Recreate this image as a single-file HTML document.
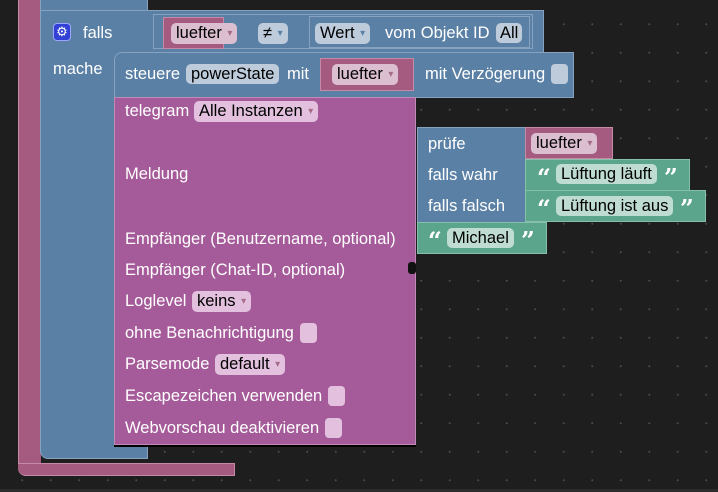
<!DOCTYPE html>
<html><head><meta charset="utf-8"><style>
*{margin:0;padding:0;box-sizing:border-box}
body{width:718px;height:492px;overflow:hidden;background:#1e1e1e;position:relative;font-family:"Liberation Sans",Arial,sans-serif;font-size:16.5px;color:#fff;
background-image:radial-gradient(circle,#4a4a4a 0.8px,transparent 1.2px);background-size:28.5px 28.5px;background-position:8px 10px}
.a{position:absolute}
.pk{background:#a55b80;border:1px solid #c58aa6}
.bl{background:#5b80a5;border:1px solid #86a2bf}
.pu{background:#a55b99;border:1px solid #c08ab6}
.gr{background:#5ba58c;border:1px solid #86c0ab}
.t{position:absolute;white-space:nowrap;line-height:18px}
.pill{position:absolute;border-radius:5px;color:#000;line-height:20px;padding:0 5px;white-space:nowrap}
.pp{background:#dbbfd0}
.pb{background:#bdcbdb}
.pg{background:#bfdcd2}
.pv{background:#e2c0de}
.dd::after{content:"  ▾";white-space:pre;font-size:10px;color:#a56b88;vertical-align:2px}
.dd.b::after{color:#5b80a5}
.cb{position:absolute;width:17px;height:20px;border-radius:4px}
.q{position:absolute;font-weight:bold;font-size:24px;font-family:"DejaVu Serif",serif;line-height:24px}
</style></head><body>
<div class="a" style="left:0;top:489px;width:718px;height:3px;background:#2c2c2c"></div>
<div class="a pk" style="left:18px;top:-2px;width:23px;height:478px;border-radius:0 0 0 8px;border-right:none"></div>
<div class="a pk" style="left:18px;top:463px;width:217px;height:13px;border-left:none;border-radius:0 0 0 8px"></div>
<div class="a bl" style="left:40px;top:-2px;width:108px;height:461px;border-radius:0 0 0 8px"></div>
<div class="a bl" style="left:40px;top:10px;width:504px;height:43px;border-bottom:none"></div>
<div class="a" style="left:53px;top:23px;width:18px;height:18px;background:#3340d6;border:1px solid #9aa6ff;border-radius:4px;color:#fff;font-size:13px;text-align:center;line-height:16px">⚙</div>
<div class="t" style="left:83px;top:24px">falls</div>
<div class="t" style="left:53px;top:60px">mache</div>
<div class="a bl" style="left:153px;top:14px;width:380px;height:35px;background:transparent;border:1px solid #86a2bf"></div>
<div class="a pk" style="left:163px;top:17px;width:61px;height:32px"></div>
<div class="pill pp dd" style="left:171px;top:23px">luefter</div>
<div class="pill pb dd b" style="left:258px;top:23px">≠</div>
<div class="a bl" style="left:309px;top:16px;width:221px;height:32px"></div>
<div class="pill pb dd b" style="left:315px;top:23px">Wert</div>
<div class="t" style="left:385px;top:24px">vom Objekt ID</div>
<div class="pill pb" style="left:496px;top:23px;padding:0 4px">All</div>
<div class="a bl" style="left:114px;top:52px;width:460px;height:46px;border-radius:8px 0 0 0"></div>
<div class="t" style="left:125px;top:65px">steuere</div>
<div class="pill pb" style="left:186px;top:64px">powerState</div>
<div class="t" style="left:287px;top:65px">mit</div>
<div class="a pk" style="left:320px;top:58px;width:94px;height:33px"></div>
<div class="pill pp dd" style="left:332px;top:64px">luefter</div>
<div class="t" style="left:425px;top:65px">mit Verzögerung</div>
<div class="cb" style="left:551px;top:64px;background:#bdcbdb"></div>
<div class="a pu" style="left:114px;top:97px;width:302px;height:348px;box-shadow:0 2px 0 #000"></div>
<div class="t" style="left:125px;top:102px">telegram</div>
<div class="pill pv dd" style="left:194px;top:101px">Alle Instanzen</div>
<div class="t" style="left:125px;top:165px">Meldung</div>
<div class="t" style="left:125px;top:230px">Empfänger (Benutzername, optional)</div>
<div class="t" style="left:125px;top:261px">Empfänger (Chat-ID, optional)</div>
<div class="a" style="left:408px;top:262px;width:8px;height:12px;background:#111;border-radius:3px"></div>
<div class="t" style="left:125px;top:292px">Loglevel</div>
<div class="pill pv dd" style="left:192px;top:291px">keins</div>
<div class="t" style="left:125px;top:324px">ohne Benachrichtigung</div>
<div class="cb" style="left:300px;top:323px;background:#e2c0de"></div>
<div class="t" style="left:125px;top:355px">Parsemode</div>
<div class="pill pv dd" style="left:215px;top:354px">default</div>
<div class="t" style="left:125px;top:387px">Escapezeichen verwenden</div>
<div class="cb" style="left:328px;top:386px;background:#e2c0de"></div>
<div class="t" style="left:125px;top:419px">Webvorschau deaktivieren</div>
<div class="cb" style="left:325px;top:418px;background:#e2c0de"></div>
<div class="a bl" style="left:417px;top:127px;width:109px;height:96px"></div>
<div class="t" style="left:428px;top:135px">prüfe</div>
<div class="t" style="left:428px;top:166px">falls wahr</div>
<div class="t" style="left:428px;top:197px">falls falsch</div>
<div class="a pk" style="left:525px;top:127px;width:88px;height:32px"></div>
<div class="pill pp dd" style="left:531px;top:133px">luefter</div>
<div class="a gr" style="left:525px;top:159px;width:165px;height:32px"></div>
<div class="q" style="left:537px;top:166px">“</div>
<div class="pill pg" style="left:556px;top:164px">Lüftung läuft</div>
<div class="q" style="left:664px;top:166px">”</div>
<div class="a gr" style="left:525px;top:190px;width:181px;height:32px"></div>
<div class="q" style="left:537px;top:197px">“</div>
<div class="pill pg" style="left:556px;top:196px">Lüftung ist aus</div>
<div class="q" style="left:680px;top:197px">”</div>
<div class="a gr" style="left:417px;top:222px;width:130px;height:32px"></div>
<div class="q" style="left:428px;top:229px">“</div>
<div class="pill pg" style="left:447px;top:228px">Michael</div>
<div class="q" style="left:521px;top:229px">”</div>
</body></html>
